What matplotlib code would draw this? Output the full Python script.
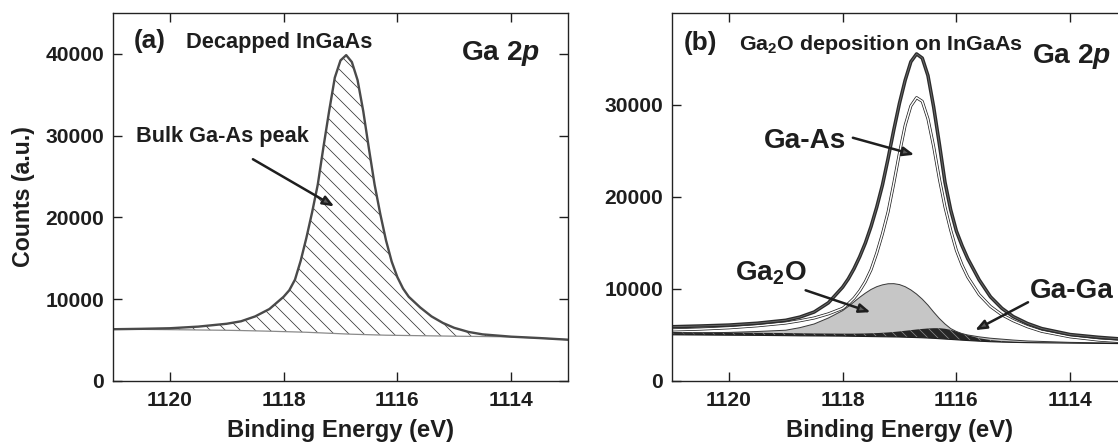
import matplotlib
matplotlib.use("Agg")
import matplotlib.pyplot as plt

# ---------------------------------------------------------------- data
energy_ev = [1121.0, 1120.5, 1120.0, 1119.5, 1119.0, 1118.75, 1118.5, 1118.25,
             1118.0, 1117.9, 1117.8, 1117.7, 1117.6, 1117.5, 1117.4, 1117.3,
             1117.2, 1117.1, 1117.0, 1116.9, 1116.8, 1116.7, 1116.6, 1116.5,
             1116.4, 1116.3, 1116.2, 1116.1, 1116.0, 1115.9, 1115.8, 1115.6,
             1115.4, 1115.2, 1115.0, 1114.75, 1114.5, 1114.0, 1113.5, 1113.0]

# (a) decapped InGaAs
decapped_counts = [6330, 6380, 6450, 6650, 7000, 7300, 7900, 8800,
                   10300, 11100, 12400, 14700, 17500, 20600, 24000, 28600,
                   33000, 37100, 39200, 39850, 39000, 36800, 33000, 28400,
                   24000, 20400, 17200, 14600, 12700, 11300, 10300, 9000,
                   7900, 7100, 6500, 6000, 5700, 5420, 5250, 5050]
decapped_bg = [6330, 6310, 6280, 6240, 6200, 6170, 6130, 6090,
               6040, 6020, 6000, 5980, 5960, 5930, 5900, 5870,
               5840, 5810, 5780, 5750, 5720, 5700, 5680, 5660,
               5640, 5620, 5600, 5590, 5580, 5570, 5560, 5540,
               5520, 5500, 5480, 5460, 5440, 5400, 5250, 5050]

# (b) Ga2O deposition on InGaAs
envelope_counts = [5900, 5980, 6080, 6280, 6600, 6950, 7500, 8500,
                   10200, 11100, 12200, 13500, 15000, 16800, 18900, 21300,
                   24200, 27300, 30200, 32700, 34700, 35550, 35100, 33200,
                   29800, 25800, 21600, 18600, 16300, 14700, 13300, 11000,
                   9150, 7900, 7000, 6250, 5700, 5050, 4750, 4520]
gaas_counts = [5550, 5640, 5780, 6000, 6300, 6550, 6850, 7300,
               7900, 8400, 9000, 9800, 10800, 12100, 13900, 16000,
               18400, 21500, 24800, 27800, 29900, 30800, 30400, 28500,
               25500, 22000, 18900, 16400, 14200, 12600, 11300, 9400,
               8100, 7200, 6550, 5900, 5400, 4800, 4450, 4250]
ga2o_counts = [5200, 5230, 5280, 5380, 5520, 5800, 6200, 6850,
               7650, 8100, 8600, 9100, 9550, 9950, 10250, 10450,
               10570, 10580, 10480, 10250, 9900, 9450, 8900, 8250,
               7500, 6800, 6200, 5700, 5380, 5150, 5000, 4800,
               4650, 4550, 4450, 4350, 4300, 4200, 4150, 4100]
gaga_counts = [5330, 5300, 5270, 5240, 5210, 5190, 5170, 5160,
               5150, 5150, 5150, 5160, 5170, 5190, 5210, 5240,
               5280, 5330, 5390, 5460, 5530, 5600, 5660, 5710,
               5740, 5740, 5680, 5560, 5380, 5170, 4980, 4650,
               4450, 4330, 4260, 4210, 4180, 4140, 4110, 4080]
deposition_bg = [5020, 5000, 4980, 4960, 4930, 4910, 4900, 4890,
                 4880, 4870, 4860, 4850, 4840, 4830, 4820, 4810,
                 4800, 4790, 4780, 4760, 4740, 4720, 4700, 4670,
                 4640, 4600, 4560, 4520, 4480, 4440, 4400, 4330,
                 4270, 4230, 4200, 4170, 4150, 4120, 4090, 4060]

x_ticks = [1120, 1118, 1116, 1114]
y_ticks_a = [0, 10000, 20000, 30000, 40000]
y_ticks_b = [0, 10000, 20000, 30000]

# ---------------------------------------------------------------- style
DPI = 90
FONT = "Liberation Sans"
plt.rcParams.update({
    "font.family": FONT,
    "font.weight": "bold",
    "mathtext.fontset": "custom",
    "mathtext.rm": f"{FONT}:bold",
    "mathtext.bf": f"{FONT}:bold",
    "mathtext.it": f"{FONT}:bold:italic",
    "hatch.linewidth": 0.6,
    "axes.linewidth": 1.1,
    "axes.edgecolor": "#222222",
})
INK = "#1e1e1e"

fig = plt.figure(figsize=(1118 / DPI, 442 / DPI), dpi=DPI)
ax_a = fig.add_axes([0.10107, 0.13801, 0.40698, 0.83258])
ax_b = fig.add_axes([0.60107, 0.13801, 0.40698, 0.83258])


def style_axes(ax, yticks, ylim):
    ax.set_xlim(1121, 1113)
    ax.set_ylim(*ylim)
    ax.set_xticks(x_ticks)
    ax.set_yticks(yticks)
    ax.tick_params(direction="in", top=True, right=True, length=7,
                   width=1.1, color=INK, labelsize=16.8, labelcolor=INK)
    ax.tick_params(axis="x", pad=8)
    ax.tick_params(axis="y", pad=7)
    for lab in ax.get_xticklabels() + ax.get_yticklabels():
        lab.set_fontweight("bold")
    ax.set_xlabel("Binding Energy (eV)", fontsize=19, fontweight="bold",
                  color=INK, labelpad=7)


def arrow(ax, tail, head):
    ax.annotate("", xy=head, xytext=tail,
                arrowprops=dict(arrowstyle="-|>,head_length=0.75,head_width=0.3",
                                lw=2.0, fc="#5a5a5a", ec=INK,
                                shrinkA=0, shrinkB=0))


# ---------------------------------------------------------------- (a)
style_axes(ax_a, y_ticks_a, (0, 45000))
ax_a.set_ylabel("Counts (a.u.)", fontsize=18.5, fontweight="bold",
                color=INK, labelpad=8)
ax_a.fill_between(energy_ev, decapped_bg, decapped_counts,
                  facecolor="none", edgecolor="#333333", hatch="\\\\",
                  linewidth=0)
ax_a.plot(energy_ev, decapped_bg, color="#8a8a8a", lw=1.0)
ax_a.plot(energy_ev, decapped_counts, color="#4a4a4a", lw=1.9)

ax_a.text(1120.63, 40740, "(a)", fontsize=21, fontweight="bold", color=INK,
          ha="left", va="baseline")
ax_a.text(1119.72, 40740, "Decapped InGaAs", fontsize=17.4, fontweight="bold",
          color=INK, ha="left", va="baseline")
ax_a.text(1114.88, 39260, r"Ga $\mathit{2p}$", fontsize=22.5, color=INK,
          ha="left", va="baseline")
ax_a.text(1120.60, 29200, "Bulk Ga-As peak", fontsize=17.4, fontweight="bold",
          color=INK, ha="left", va="baseline")
arrow(ax_a, (1118.54, 27120), (1117.11, 21350))

# ---------------------------------------------------------------- (b)
style_axes(ax_b, y_ticks_b, (0, 40000))
ax_b.fill_between(energy_ev, deposition_bg, ga2o_counts,
                  facecolor="#c6c6c6", edgecolor="none", linewidth=0)
ax_b.plot(energy_ev, ga2o_counts, color="#3a3a3a", lw=0.8)
ax_b.fill_between(energy_ev, deposition_bg, gaga_counts,
                  facecolor="#262626", edgecolor="#8c8c8c", hatch="\\\\\\",
                  linewidth=0)
ax_b.plot(energy_ev, deposition_bg, color="#202020", lw=0.9)
ax_b.plot(energy_ev, gaas_counts, color="#202020", lw=2.4)
ax_b.plot(energy_ev, gaas_counts, color="white", lw=1.2)
ax_b.plot(energy_ev, envelope_counts, color="#2b2b2b", lw=2.8)
ax_b.plot(energy_ev, envelope_counts, color="#6a6a6a", lw=0.7)

ax_b.text(1120.79, 35970, "(b)", fontsize=21, fontweight="bold", color=INK,
          ha="left", va="baseline")
ax_b.text(1119.82, 35970, r"Ga$_2$O deposition on InGaAs", fontsize=17.2,
          color=INK, ha="left", va="baseline")
ax_b.text(1114.67, 34560, r"Ga $\mathit{2p}$", fontsize=22.5, color=INK,
          ha="left", va="baseline")
ax_b.text(1119.39, 25350, "Ga-As", fontsize=22.3, fontweight="bold",
          color=INK, ha="left", va="baseline")
arrow(ax_b, (1117.82, 26440), (1116.74, 24590))
ax_b.text(1119.89, 10940, r"Ga$_2$O", fontsize=22.3, color=INK,
          ha="left", va="baseline")
arrow(ax_b, (1118.65, 9860), (1117.51, 7480))
ax_b.text(1114.70, 8990, "Ga-Ga", fontsize=22.3, fontweight="bold",
          color=INK, ha="left", va="baseline")
arrow(ax_b, (1114.74, 8560), (1115.67, 5530))

fig.savefig("out.png", dpi=DPI)
